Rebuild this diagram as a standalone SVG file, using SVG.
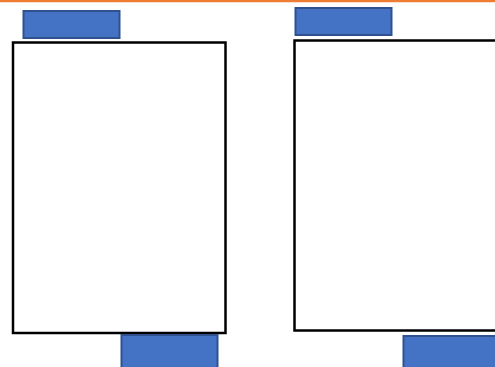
<svg xmlns="http://www.w3.org/2000/svg" width="495" height="367" viewBox="0 0 495 367">
<style>
.lbl{fill:#4472C4;stroke:#2F528F;stroke-width:2}
.box{fill:#FFFFFF;stroke:#000000;stroke-width:2.5}
</style>
<rect x="0" y="0" width="495" height="367" fill="#FFFFFF"/>
<line x1="0" y1="1" x2="495" y2="1" stroke="#ED7D31" stroke-width="2.5"/>
<g id="left-panel">
<rect class="box" x="13" y="42.5" width="212.5" height="290.5"/>
</g>
<g id="left-top-label"><rect class="lbl" x="23.5" y="11" width="96" height="27"/></g>
<g id="left-bottom-label"><rect class="lbl" x="121.5" y="335" width="96" height="34"/></g>
<g id="right-panel">
<rect class="box" x="294.5" y="40.5" width="210" height="290"/>
</g>
<g id="right-top-label"><rect class="lbl" x="295.5" y="8" width="96" height="27"/></g>
<g id="right-bottom-label"><rect class="lbl" x="403.5" y="336" width="96" height="34"/></g>
<g id="connectors"></g>
</svg>
